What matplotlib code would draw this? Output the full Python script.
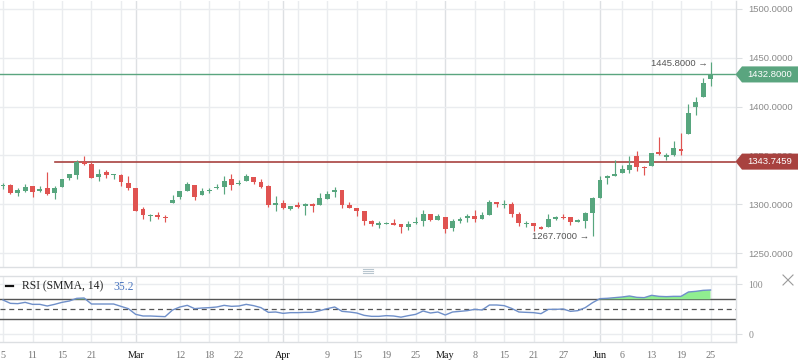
import matplotlib
matplotlib.use('Agg')
import matplotlib.pyplot as plt
import numpy as np
from matplotlib.patches import Polygon
from matplotlib.transforms import blended_transform_factory
from matplotlib.lines import Line2D

# ---------------- data ----------------
opens = [1319.1, 1319.4, 1311.6, 1313.6, 1318.4, 1313.3, 1316.3, 1311.6, 1317.7, 1326.9,
         1329.9, 1342.9, 1341.8, 1327.9, 1332.7, 1330.3, 1329.6, 1321.4, 1316.3, 1294.9,
         1288.4, 1288.4, 1287.1, 1301.4, 1307.5, 1313.6, 1319.4, 1309.5, 1314.0, 1317.0,
         1317.7, 1325.5, 1321.1, 1323.8, 1327.6, 1322.5, 1318.7, 1300.3, 1301.0, 1295.3,
         1299.0, 1299.0, 1299.7, 1299.3, 1305.5, 1313.3, 1314.3, 1299.0, 1295.9, 1292.9,
         1282.7, 1279.9, 1280.3, 1280.6, 1279.6, 1276.9, 1281.3, 1283.0, 1289.8, 1283.7,
         1287.4, 1275.9, 1283.7, 1286.8, 1287.8, 1284.7, 1288.8, 1302.1, 1299.7, 1300.0,
         1289.8, 1280.3, 1280.6, 1276.3, 1276.6, 1285.7, 1287.1, 1286.8, 1282.7, 1283.4,
         1291.2, 1306.5, 1327.6, 1328.6, 1331.7, 1334.7, 1349.0, 1338.1, 1339.1, 1353.1,
         1349.0, 1350.7, 1355.8, 1371.8, 1399.3, 1409.5, 1427.9]
highs = [1321.8, 1320.8, 1316.3, 1320.4, 1318.4, 1318.4, 1332.7, 1318.4, 1326.5, 1330.6,
         1344.9, 1349.3, 1343.5, 1335.7, 1334.7, 1331.6, 1330.6, 1328.9, 1316.3, 1297.0,
         1289.8, 1291.8, 1288.8, 1309.2, 1313.3, 1322.5, 1319.4, 1317.0, 1317.0, 1320.4,
         1328.6, 1330.6, 1324.5, 1331.6, 1327.6, 1326.2, 1320.1, 1308.2, 1304.8, 1298.6,
         1302.1, 1301.0, 1301.0, 1311.6, 1313.3, 1317.4, 1314.3, 1302.1, 1295.9, 1292.9,
         1284.4, 1282.7, 1281.6, 1284.7, 1279.6, 1282.7, 1286.8, 1293.9, 1289.8, 1290.5,
         1287.4, 1285.4, 1286.8, 1289.8, 1293.9, 1291.8, 1304.1, 1302.1, 1304.1, 1302.1,
         1291.8, 1283.0, 1280.6, 1278.3, 1289.8, 1288.1, 1289.8, 1286.8, 1285.1, 1291.9,
         1307.8, 1328.6, 1329.6, 1344.9, 1340.8, 1349.0, 1354.1, 1338.8, 1352.7, 1368.4,
         1352.4, 1364.3, 1372.5, 1403.1, 1410.2, 1429.3, 1445.8]
lows = [1315.7, 1310.6, 1308.5, 1312.3, 1307.5, 1312.3, 1309.5, 1305.5, 1317.7, 1324.8,
        1325.9, 1340.5, 1326.9, 1323.8, 1327.2, 1325.9, 1318.7, 1314.6, 1293.2, 1284.7,
        1282.7, 1285.0, 1282.0, 1301.4, 1305.5, 1313.6, 1304.1, 1309.5, 1311.6, 1315.3,
        1310.6, 1314.6, 1319.4, 1323.8, 1320.8, 1316.7, 1297.3, 1293.2, 1295.3, 1294.2,
        1296.3, 1289.1, 1292.2, 1299.3, 1305.1, 1307.5, 1296.3, 1295.9, 1288.1, 1278.6,
        1277.6, 1275.9, 1279.6, 1278.9, 1270.8, 1273.5, 1279.9, 1277.9, 1282.7, 1283.7,
        1270.8, 1272.8, 1281.3, 1282.0, 1281.7, 1284.7, 1288.8, 1297.3, 1296.3, 1287.1,
        1277.9, 1276.9, 1272.8, 1274.9, 1276.6, 1283.7, 1284.7, 1279.3, 1282.0, 1275.9,
        1267.7, 1306.5, 1320.8, 1328.6, 1331.7, 1332.0, 1334.0, 1329.6, 1339.1, 1351.0,
        1344.9, 1349.7, 1351.0, 1371.8, 1391.2, 1409.5, 1420.8]
closes = [1319.7, 1311.6, 1314.3, 1318.0, 1312.6, 1315.3, 1310.6, 1316.3, 1326.5, 1330.6,
          1342.9, 1341.5, 1326.9, 1330.6, 1329.9, 1331.0, 1322.8, 1316.7, 1293.2, 1289.1,
          1289.1, 1287.8, 1286.4, 1304.1, 1313.3, 1320.8, 1307.5, 1313.3, 1314.6, 1317.7,
          1323.5, 1319.7, 1322.1, 1328.6, 1322.5, 1317.7, 1299.0, 1301.0, 1295.9, 1298.6,
          1297.3, 1299.7, 1299.0, 1306.1, 1310.2, 1314.0, 1299.0, 1296.3, 1293.2, 1283.0,
          1279.9, 1280.6, 1281.0, 1279.9, 1276.9, 1280.3, 1282.0, 1289.8, 1283.7, 1287.8,
          1274.8, 1282.7, 1284.4, 1287.4, 1284.7, 1288.8, 1302.1, 1300.0, 1300.3, 1290.1,
          1281.0, 1281.0, 1278.3, 1275.6, 1285.4, 1286.4, 1286.4, 1281.7, 1283.4, 1290.8,
          1306.1, 1325.2, 1328.3, 1331.0, 1336.1, 1340.8, 1338.1, 1337.4, 1352.7, 1352.4,
          1349.7, 1357.2, 1355.1, 1393.6, 1405.1, 1424.5, 1432.8]
rsi_values = [68.6, 61.9, 61.3, 63.9, 59.9, 59.9, 56.6, 59.9, 63.9, 66.6,
              71.9, 72.6, 60.6, 60.6, 60.6, 60.6, 55.9, 51.3, 39.9, 36.6,
              36.6, 35.9, 35.3, 48.6, 54.6, 57.9, 51.3, 52.6, 53.3, 54.6,
              57.9, 55.9, 56.6, 59.9, 57.3, 53.3, 43.9, 44.6, 41.9, 43.3,
              43.3, 43.9, 43.9, 47.3, 51.3, 54.6, 45.9, 44.6, 42.6, 37.9,
              35.9, 35.9, 37.3, 36.6, 34.3, 37.3, 39.9, 46.6, 42.6, 44.6,
              38.6, 44.6, 45.9, 47.3, 49.9, 48.6, 58.6, 58.6, 57.3, 51.9,
              44.6, 43.9, 43.3, 41.3, 49.9, 49.9, 50.6, 45.9, 47.3, 53.3,
              63.3, 71.3, 72.0, 73.3, 74.6, 76.6, 73.9, 73.3, 77.9, 75.9,
              75.3, 75.9, 75.9, 84.6, 85.9, 87.9, 88.6]

tick_pos = [0, 4, 8, 12, 16, 24, 28, 32, 36, 40, 44, 48, 52, 56, 64, 68, 72, 76, 84, 88, 92, 96]
tick_labels = ['5', '11', '15', '21', '', '12', '18', '22', '', '', '9', '15', '19', '25',
               '8', '15', '21', '27', '6', '13', '19', '25']
month_pos = [18, 38, 60, 81]
month_labels = ['Mar', 'Apr', 'May', 'Jun']
price_ticks = [1250, 1300, 1350, 1400, 1450, 1500]
rsi_ticks = [0, 100]
rsi_levels = [30, 50, 70]
last_price = 1432.8
level_price = 1343.7459
level_start = 7
rsi_title = 'RSI (SMMA, 14)'
rsi_current = '35.2'

# ---------------- style ----------------
GREEN = '#57a67e'
RED = '#e05351'
TAG_GREEN = '#5aa57f'
TAG_RED = '#a8423f'
GRID = '#eaecef'
GRID_M = '#dde0e3'
SPINE = '#dcdfe2'
SERIF = ['Liberation Serif', 'DejaVu Serif']
SANS = ['Liberation Sans', 'DejaVu Sans']

W, H = 798, 363
fig = plt.figure(figsize=(W / 100, H / 100), dpi=100)
fig.patch.set_facecolor('white')

def fx(px):
    return px / W

def fy(py):
    return 1 - py / H

right_px = 735.5
ax = fig.add_axes([0, fy(267.3), fx(right_px), (267.3 - 1) / H])
axr = fig.add_axes([0, fy(342.3), fx(right_px), (342.3 - 275.7) / H])

n = len(opens)
x = np.arange(n)
o = np.array(opens); h = np.array(highs); l = np.array(lows); c = np.array(closes)
up = c >= o
cols = np.where(up, GREEN, RED)
diff = np.abs(c - o)
mid = (o + c) / 2
min_body = 1.6
body_bottom = np.where(diff < min_body, mid - min_body / 2, np.minimum(o, c))
body_h = np.maximum(diff, min_body)

xlim = (-0.41, 99.39)
for a in (ax, axr):
    a.set_xlim(*xlim)
    for p in tick_pos:
        a.axvline(p, color=GRID, lw=1.0, zorder=0)
    for p in month_pos:
        a.axvline(p, color=GRID_M, lw=1.0, zorder=0)
    for s in ('top', 'left', 'bottom', 'right'):
        a.spines[s].set_color(SPINE)
        a.spines[s].set_linewidth(1.0)
    a.spines['left'].set_visible(False)

ax.spines['top'].set_visible(False)

# main panel
ax.set_ylim(1235.8, 1507.8)
for p in price_ticks:
    ax.axhline(p, color=GRID, lw=1.0, zorder=0)
ax.vlines(x, l, h, colors=cols, linewidth=0.85, zorder=3)
ax.bar(x, body_h, bottom=body_bottom, width=0.66, color=cols, linewidth=0, zorder=4)

ax.axhline(last_price, color=TAG_GREEN, lw=1.0, zorder=2)
ax.plot([level_start, xlim[1]], [level_price, level_price], color=TAG_RED, lw=1.2, zorder=2)

ax.yaxis.tick_right()
ax.set_yticks(price_ticks)
ax.set_yticklabels([f'{p:.4f}' for p in price_ticks])
ax.tick_params(axis='y', length=4, color=SPINE, pad=5.2, labelsize=6.8, labelcolor='#8a8a8a')
for t in ax.get_yticklabels():
    t.set_fontfamily(SANS)
ax.set_xticks([])

# high/low annotations
ih = int(np.argmax(h)); il = int(np.argmin(l))
ax.annotate(f'{h[ih]:.4f} \u2192', xy=(ih, h[ih]), xytext=(-3, -2), textcoords='offset pixels',
            ha='right', va='center', fontsize=6.8, color='#555555', family=SANS, zorder=6)
ax.annotate(f'{l[il]:.4f} \u2192', xy=(il, l[il]), xytext=(-3, 0), textcoords='offset pixels',
            ha='right', va='center', fontsize=6.8, color='#555555', family=SANS, zorder=6)

# price tags
bt = blended_transform_factory(fig.transFigure, ax.transData)
half = 8.2
for price, colr in ((last_price, TAG_GREEN), (level_price, TAG_RED)):
    poly = Polygon([(fx(735.5), price), (fx(742), price + half), (fx(800), price + half),
                    (fx(800), price - half), (fx(742), price - half)], closed=True,
                   transform=bt, facecolor=colr, edgecolor='none', zorder=5)
    fig.add_artist(poly)
    fig.text(fx(747), price, f'{price:.4f}', transform=bt, ha='left', va='center',
             fontsize=6.8, color='white', family=SANS, zorder=6)

# RSI panel
axr.set_ylim(-16, 117.2)
for p in rsi_ticks:
    axr.axhline(p, color=GRID, lw=1.0, zorder=0)
rsi = np.array(rsi_values)
axr.axhline(rsi_levels[2], color='#555555', lw=1.0, zorder=2)
axr.axhline(rsi_levels[0], color='#555555', lw=1.0, zorder=2)
axr.axhline(rsi_levels[1], color='#555555', lw=0.9, ls=(0, (4, 3)), zorder=2)
axr.fill_between(x, rsi, rsi_levels[2], where=rsi > rsi_levels[2], interpolate=True,
                 color='#90ee90', linewidth=0, zorder=3)
axr.plot(x, rsi, color='#6f8fc9', lw=1.0, zorder=4)
axr.yaxis.tick_right()
axr.set_yticks(rsi_ticks)
axr.set_yticklabels([str(v) for v in rsi_ticks])
axr.tick_params(axis='y', length=4, color=SPINE, pad=5.2, labelsize=7.0, labelcolor='#8a8a8a')
for t in axr.get_yticklabels():
    t.set_fontfamily(SERIF)

all_pos = tick_pos + month_pos
all_lab = tick_labels + month_labels
axr.set_xticks(all_pos)
axr.set_xticklabels(all_lab)
axr.tick_params(axis='x', length=0, pad=6.5, labelsize=7.3)
for i, t in enumerate(axr.get_xticklabels()):
    t.set_fontfamily(SERIF)
    t.set_color('#111111' if i >= len(tick_pos) else '#777777')

# RSI title
fig.add_artist(Line2D([fx(6), fx(13)], [fy(285.7), fy(285.7)], color='#111111', lw=1.6))
fig.text(fx(22.5), fy(286.7), rsi_title, ha='left', va='center', fontsize=8.4,
         color='#222222', family=SERIF)
fig.text(fx(113), fy(286.7), rsi_current, ha='left', va='center', fontsize=8.4,
         color='#4a75bf', family=SERIF)

# close icon
for (x0, y0, x1, y1) in ((783, 275, 793, 285), (783, 285, 793, 275)):
    fig.add_artist(Line2D([fx(x0), fx(x1)], [fy(y0), fy(y1)], color='#9a9a9a', lw=0.8))
# panel handle
for yy in (269, 271, 273):
    fig.add_artist(Line2D([fx(363), fx(373)], [fy(yy), fy(yy)], color='#b9c6cf', lw=0.8))

fig.savefig('out.png', dpi=100, facecolor='white')
